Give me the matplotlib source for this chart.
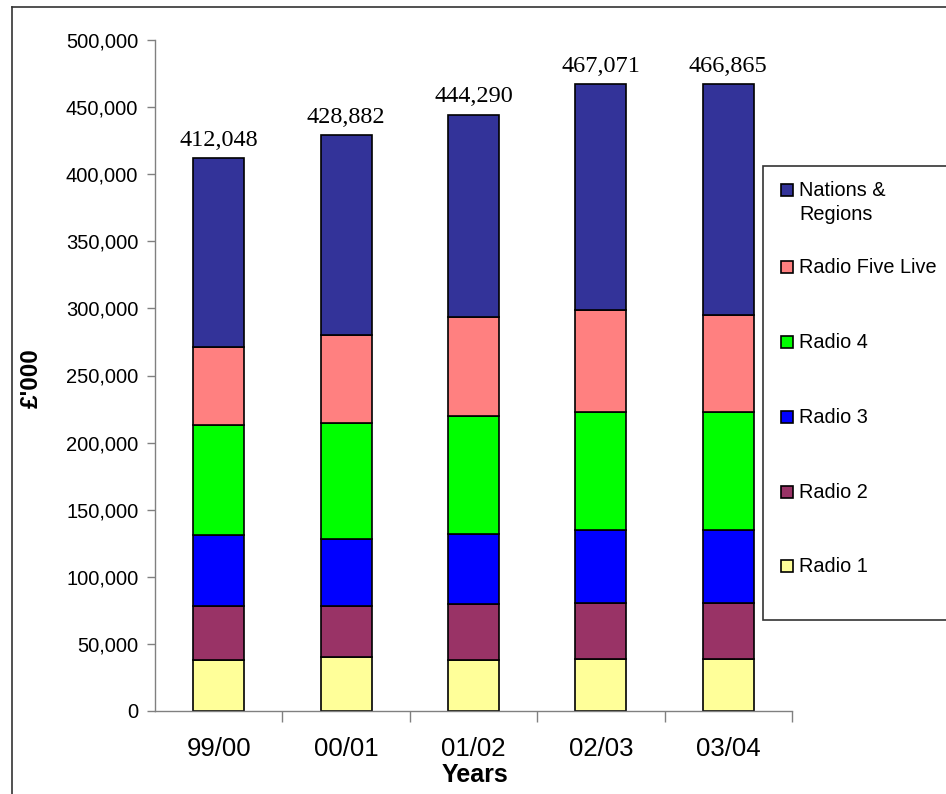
import matplotlib
matplotlib.use("Agg")
import matplotlib.pyplot as plt
from matplotlib.patches import Rectangle
from matplotlib.lines import Line2D
import numpy as np

plt.rcParams['font.family'] = ['Liberation Sans', 'DejaVu Sans']

# values (£'000)
years = ['99/00', '00/01', '01/02', '02/03', '03/04']
radio_1 = [37700, 40000, 37700, 38700, 38700]
radio_2 = [40400, 38100, 41900, 42100, 42100]
radio_3 = [52700, 50400, 52400, 53900, 53900]
radio_4 = [82100, 85900, 88100, 87900, 87900]
five_live = [58400, 65500, 73800, 76100, 72800]
totals = [412048, 428882, 444290, 467071, 466865]

series_names = ['Radio 1', 'Radio 2', 'Radio 3', 'Radio 4', 'Radio Five Live', 'Nations &\nRegions']
series_colors = ['#FFFF99', '#993366', '#0000FF', '#00FF00', '#FF8080', '#333399']

# Nations & Regions is what is left up to the total
nations = [t - (a + b + c + d + e) for t, a, b, c, d, e in
           zip(totals, radio_1, radio_2, radio_3, radio_4, five_live)]
series = [radio_1, radio_2, radio_3, radio_4, five_live, nations]

fig = plt.figure(figsize=(9.46, 7.94), dpi=100)
ax = fig.add_axes([155 / 946, 1 - 711 / 794, (792 - 155) / 946, (711 - 40) / 794])

x = np.arange(len(years))
bottom = np.zeros(len(years))
for vals, color in zip(series, series_colors):
    ax.bar(x, vals, width=0.4, bottom=bottom, color=color, edgecolor='black', linewidth=1.2)
    bottom += np.array(vals)

for xi, t in zip(x, totals):
    ax.annotate(f'{t:,}', (xi, t), xytext=(0, 9), textcoords='offset points',
                ha='center', va='baseline', fontsize=17.5, family='Liberation Serif')

ax.set_xlim(-0.5, len(years) - 0.5)
ax.set_ylim(0, 500000)
ax.set_yticks(np.arange(0, 500001, 50000))
ax.set_yticklabels([f'{v:,}' for v in range(0, 500001, 50000)], fontsize=14.5)
ax.tick_params(axis='y', length=6, width=1, color='#808080', pad=6)

ax.set_xticks(x)
ax.set_xticklabels(years, fontsize=18.5)
ax.tick_params(axis='x', which='major', length=0, pad=19)
ax.set_xticks(np.arange(0.5, len(years), 1), minor=True)
ax.tick_params(axis='x', which='minor', length=8, width=1, color='#808080')

for side in ['top', 'right']:
    ax.spines[side].set_visible(False)
for side in ['left', 'bottom']:
    ax.spines[side].set_color('#808080')
    ax.spines[side].set_linewidth(1)

ax.set_xlabel('Years', fontsize=18, fontweight='bold')
ax.xaxis.set_label_coords((475 - 155) / 637, (711 - 763) / 671)
ax.set_ylabel("£'000", fontsize=17.5, fontweight='bold')
ax.yaxis.set_label_coords((43 - 155) / 637, (711 - 378) / 671)

# outer chart frame (only left and top edges are inside the picture)
fig.add_artist(Line2D([12 / 946, 12 / 946], [0, 1 - 7 / 794], transform=fig.transFigure,
                      color='#333333', linewidth=1.2))
fig.add_artist(Line2D([12 / 946, 1], [1 - 7 / 794, 1 - 7 / 794], transform=fig.transFigure,
                      color='#333333', linewidth=1.2))

# legend box, running off the right edge
fig.add_artist(Rectangle((763 / 946, 1 - 620 / 794), 0.3, (620 - 166) / 794,
                         transform=fig.transFigure, facecolor='white',
                         edgecolor='#333333', linewidth=1.2))
legend_rows = [566, 492, 417, 342, 267, 190]
for name, color, yrow in zip(series_names, series_colors, legend_rows):
    fig.add_artist(Rectangle((781 / 946, 1 - (yrow + 6) / 794), 12 / 946, 12 / 794,
                             transform=fig.transFigure, facecolor=color,
                             edgecolor='black', linewidth=1.2))
    fig.text(799 / 946, 1 - (yrow - 9) / 794, name, fontsize=14.3, va='top', ha='left',
             linespacing=1.3)

fig.savefig('out.png', dpi=100)
